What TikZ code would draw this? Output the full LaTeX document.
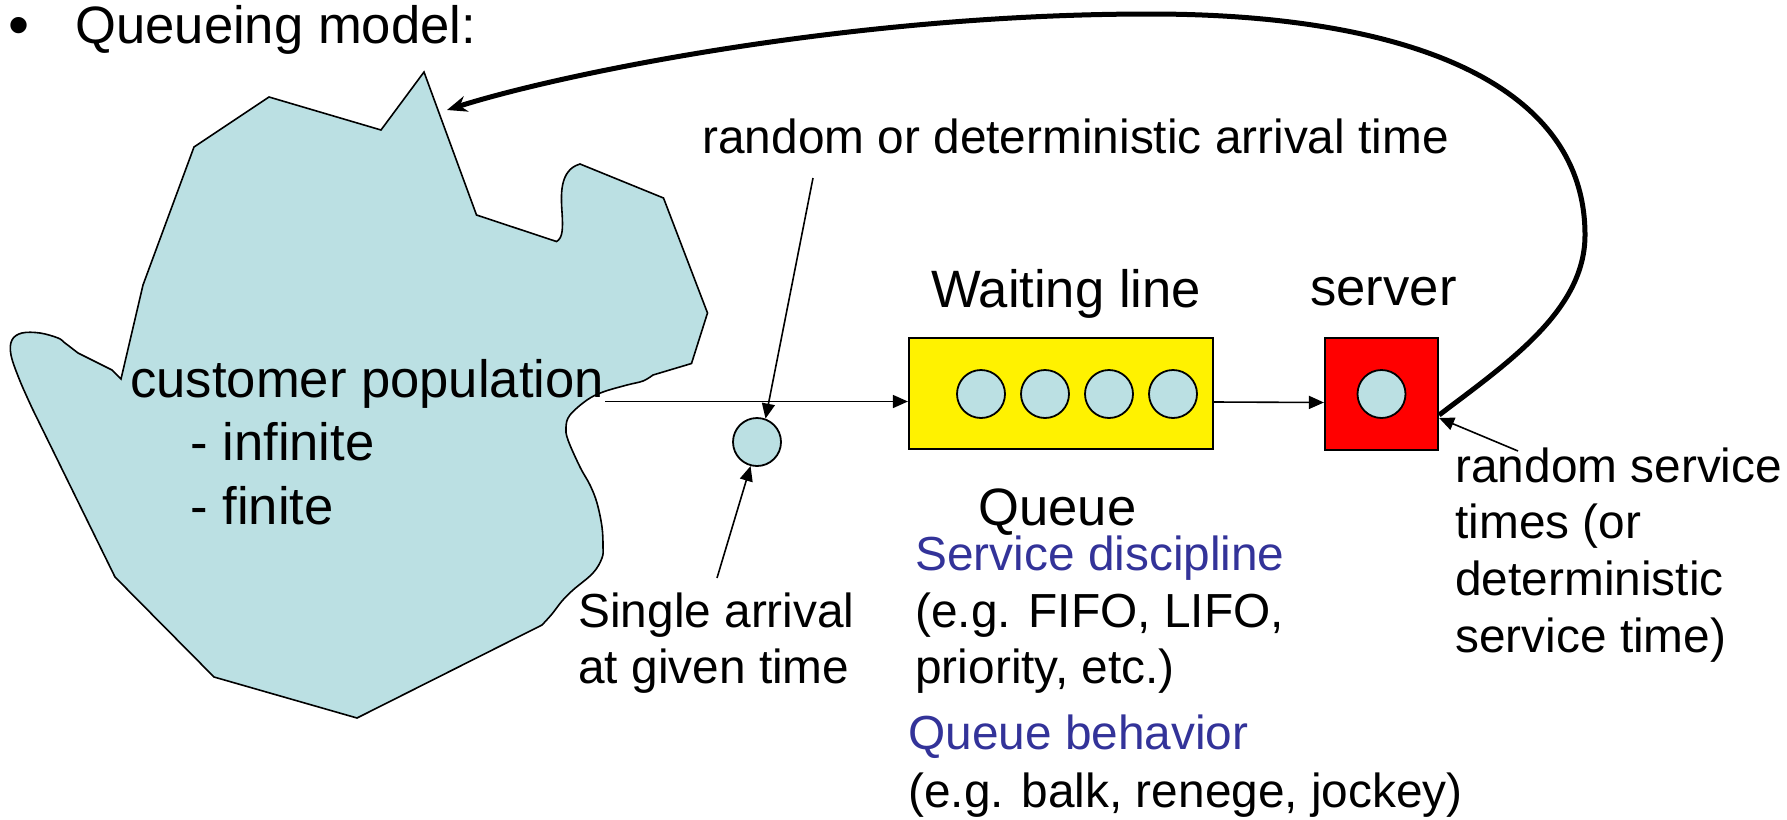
\documentclass[tikz,border=0pt]{standalone}
\usepackage{fontspec}
\setmainfont{Liberation Sans}
\usetikzlibrary{arrows.meta}
\definecolor{popblue}{RGB}{187,224,227}
\definecolor{hdblue}{RGB}{51,51,153}
\begin{document}
\begin{tikzpicture}[x=0.5pt,y=-0.5pt,
  big/.style={font=\fontsize{26.3pt}{31pt}\selectfont, inner sep=0pt, anchor=base west},
  small/.style={font=\fontsize{23.9pt}{28pt}\selectfont, inner sep=0pt, anchor=base west},
  cust/.style={circle, draw, fill=popblue, minimum size=24pt, inner sep=0pt, line width=0.9pt},
  arr/.style={-{Triangle[length=7.5pt,width=6.5pt]}, line width=0.8pt},
  boxst/.style={draw, inner sep=0pt, line width=1.1pt}
]
\useasboundingbox (0,0) rectangle (1787,819);

% customer population blob
\draw[fill=popblue, line width=0.8pt, line join=miter]
 (424,72) -- (476.5,215) -- (556.5,241.5)
 .. controls (563,238) and (563,228) .. (562,212)
 .. controls (561,196) and (559,170) .. (580,164)
 -- (663.5,198) -- (707.5,313) -- (691.5,363.5)
 -- plot[smooth, tension=0.6] coordinates {(653,375) (643,381) (627,385) (603,392) (587,400) (570,415) (566,427) (568,440) (580,467) (590,485) (597,503) (602,527) (603,547) (602,558) (593,573) (573,590) (562,601) (552,614) (542,625)}
 -- (357,718) -- (214,677) -- (115,577)
 -- plot[smooth, tension=0.6] coordinates {(33,410) (20,381) (11,355) (12,340) (22,333) (40,333) (58,338) (65,343) (78,353)}
 -- (112,370) -- (121,379) -- (143,285) -- (194,147) -- (269,97) -- (381,130) -- cycle;

% queue and server
\node[boxst, fill=yellow, minimum width=152pt, minimum height=55.5pt] (queue) at (1061,393.5) {};
\node[cust] (q1) at (981,394) {};
\node[cust] (q2) at (1045,394) {};
\node[cust] (q3) at (1109,394) {};
\node[cust] (q4) at (1173,394) {};
\node[boxst, fill=red, minimum width=56.5pt, minimum height=56pt] (server) at (1381.5,394) {};
\node[cust] (s1) at (1381.5,394) {};
\node[cust] (arrive) at (757,442) {};

\coordinate (popout) at (605,401.5);
\coordinate (tip) at (447,110);
\coordinate (a1) at (813,178);
\coordinate (a2) at (717,578);
\coordinate (a3) at (1518,451);

% texts
\node[big, font=\fontsize{30pt}{34pt}\selectfont] (bullet) at (8,45) {•};
\node[big] (title) at (75,43) {Queueing model:};
\node[big] (cp) at (130,397) {customer population};
\node[big] (inf) at (190,460) {- infinite};
\node[big] (fin) at (190,524) {- finite};
\node[small] (arrtime) at (702,153) {random or deterministic arrival time};
\node[big, anchor=base] (wl) at (1066,307) {Waiting line};
\node[big, anchor=base] (srv) at (1383.5,305) {server};
\node[big] (queuelbl) at (978,525) {Queue};
\node[small, text=hdblue] (sd) at (915,570) {Service discipline};
\node[small] (sd1) at (915,627) {(e.g. FIFO, LIFO,};
\node[small] (sd2) at (915,683) {priority, etc.)};
\node[small, text=hdblue] (qb) at (908,749) {Queue behavior};
\node[small] (qb1) at (908,807) {(e.g. balk, renege, jockey)};
\node[small] (sa1) at (578,627) {Single arrival};
\node[small] (sa2) at (578,683) {at given time};
\node[small] (rs1) at (1455,482) {random service};
\node[small] (rs2) at (1455,538) {times (or};
\node[small] (rs3) at (1455,595) {deterministic};
\node[small] (rs4) at (1455,652) {service time)};

% connectors
\draw[arr] (popout) -- (popout -| queue.west);
\draw[arr] ([yshift=-4.25pt]queue.east) -- ([yshift=-4.25pt]server.west);
\draw[arr] (a1) -- (arrive.70);
\draw[arr] (a2) -- (arrive.255);
\draw[arr] (a3) -- ([yshift=-12pt]server.east);
\draw[line width=2.5pt, -{Stealth[length=10pt,width=8pt]}]
  ([yshift=-10.5pt]server.east) .. controls +(70,-53) and (1585,310) .. (1585,235)
  .. controls (1585,80) and (1400,14) .. (1150,14)
  .. controls (850,14) and (560,74) .. (tip);
\end{tikzpicture}
\end{document}
